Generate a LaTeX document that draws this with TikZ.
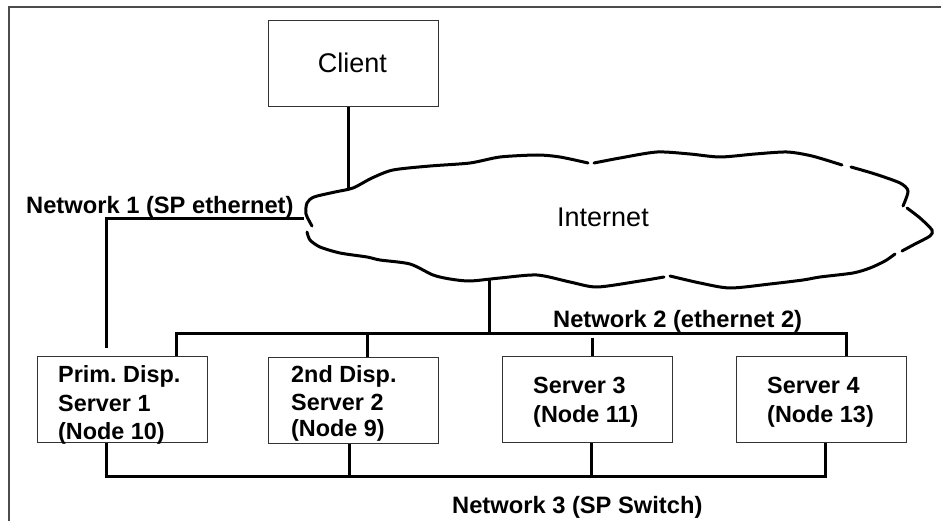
\documentclass[tikz,border=0pt]{standalone}
\usepackage{fontspec}
\setmainfont{Liberation Sans}
\frenchspacing
\begin{document}
\begin{tikzpicture}[x=1pt,y=-1pt,
  frame/.style={draw=black!70, line width=1.2pt},
  box/.style={draw=black!80, line width=1pt, minimum width=170pt, minimum height=86pt,
    inner sep=0pt, anchor=north west},
  wire/.style={line width=3pt, line join=miter},
  cloudline/.style={line width=3pt, line cap=round, line join=round},
  bigtxt/.style={font=\fontsize{27}{32}\selectfont, inner sep=0pt},
  netlab/.style={font=\fontsize{23.7}{28}\selectfont\bfseries, inner sep=0pt, anchor=base west},
  boxtxt/.style={font=\fontsize{23.4}{29}\selectfont\bfseries, inner sep=0pt, anchor=base west},
]
\useasboundingbox (0,0) rectangle (941,521);

% figure frame (left and top edges)
\draw[frame] (9,521) -- (9,7) -- (941,7);

% boxes
\node[box] (client) at (268,20) {};
\node[box] (s1) at (37,356) {};
\node[box] (s2) at (268,357) {};
\node[box] (s3) at (502,356) {};
\node[box] (s4) at (736,356) {};

\node[bigtxt, anchor=base] (clienttxt) at (352.5,73) {Client};

% box captions
\node[boxtxt] (s1a) at (58,382) {Prim. Disp.};
\node[boxtxt] (s1b) at (58,411) {Server 1};
\node[boxtxt] (s1c) at (58,439) {(Node 10)};
\node[boxtxt] (s2a) at (291,382) {2nd Disp.};
\node[boxtxt] (s2b) at (291,410) {Server 2};
\node[boxtxt] (s2c) at (291,436) {(Node 9)};
\node[boxtxt] (s3a) at (533,393) {Server 3};
\node[boxtxt] (s3b) at (533,422) {(Node 11)};
\node[boxtxt] (s4a) at (767,393) {Server 4};
\node[boxtxt] (s4b) at (767,422) {(Node 13)};

% hand-drawn Internet cloud, drawn in pieces with small gaps
\draw[cloudline] plot[smooth, tension=0.45] coordinates {
  (312,226) (306,214) (307,203) (314,197) (335,192) (353,188) (372,178) (393,170)
  (430,166) (470,163) (500,157) (537,155) (560,157) (588,163)};
\draw[cloudline] plot[smooth, tension=0.45] coordinates {
  (594,163) (620,158) (657,152) (690,154) (720,157) (755,154) (787,152) (812,156) (842,165)};
\draw[cloudline] plot[smooth, tension=0.45] coordinates {
  (851,167) (875,174) (900,183) (908,191) (903,206)};
\draw[cloudline] plot[smooth, tension=0.45] coordinates {
  (907,208) (920,218) (932,230) (930,236) (915,244) (902,251)};
\draw[cloudline] plot[smooth, tension=0.45] coordinates {
  (895,254) (885,261) (870,268) (853,273) (820,277) (803,280) (770,284) (730,288)
  (700,283) (670,276)};
\draw[cloudline] plot[smooth, tension=0.45] coordinates {
  (664,277) (640,281) (597,287) (570,282) (537,275) (500,278) (470,281) (450,279)
  (433,275) (410,264) (380,260) (367,257) (340,253) (320,247) (310,240) (307,232)};

\node[bigtxt, anchor=base west] (internet) at (557,226) {Internet};

% contact points and bus corners
\coordinate (cin) at (348,190);
\coordinate (n1c) at (304,219);
\coordinate (n1e) at (106,348);
\coordinate (n2top) at (489,280);
\coordinate (n2L) at (176,333);
\coordinate (n2R) at (846,333);
\coordinate (n2b) at (367,333);
\coordinate (n2c) at (592,338);
\coordinate (n3L) at (106,476);
\coordinate (n3R) at (825,476);
\coordinate (n3b) at (349,476);
\coordinate (n3c) at (591,476);

% client to Internet
\draw[wire] (client.south -| cin) -- (cin);

% Network 1
\draw[wire] (n1c) -- (n1c -| n1e) -- (n1e);

% Network 2
\draw[wire] (n2top) -- (n2top |- n2L);
\draw[wire] (n2L |- s1.north) -- (n2L) -- (n2R) -- (n2R |- s4.north);
\draw[wire] (n2b) -- (n2b |- s2.north);
\draw[wire] (n2c) -- (n2c |- s3.north);

% Network 3
\draw[wire] (n3L |- s1.south) -- (n3L) -- (n3R) -- (n3R |- s4.south);
\draw[wire] (n3b |- s2.south) -- (n3b);
\draw[wire] (n3c |- s3.south) -- (n3c);

% network labels
\node[netlab] (lab1) at (26,214) {Network 1 (SP ethernet)};
\node[netlab] (lab2) at (553,327) {Network 2 (ethernet 2)};
\node[netlab] (lab3) at (452,513) {Network 3 (SP Switch)};
\end{tikzpicture}
\end{document}
